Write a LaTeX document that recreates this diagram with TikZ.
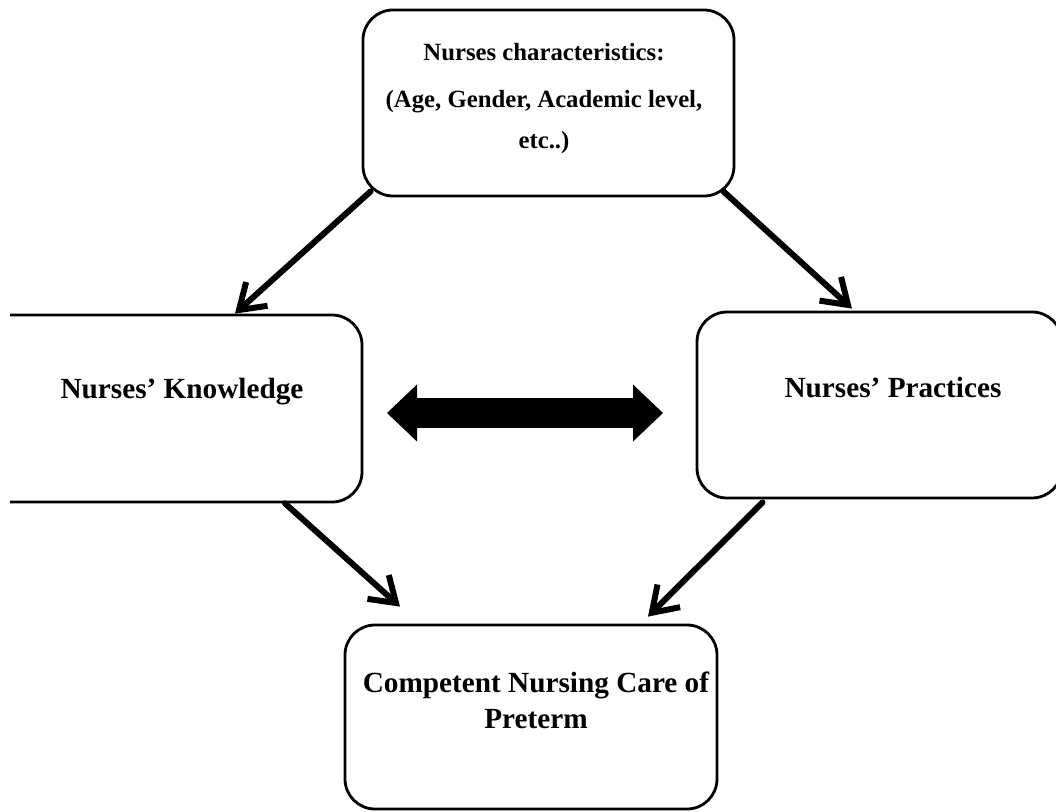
\documentclass[tikz,border=0pt]{standalone}
\usepackage{fontspec}
\setmainfont{Liberation Serif}
\usetikzlibrary{arrows.meta, positioning}
\tikzset{
  box/.style={draw, line width=0.7mm, rounded corners=7.5mm, inner sep=0pt},
  txt/.style={font=\bfseries\fontsize{20.8}{25.6}\selectfont, align=center, inner sep=0pt},
  link/.style={line width=1.5mm, line cap=round, -{Straight Barb[length=6mm, width=8mm]}},
  bigarrow/.style={line width=7.5mm,
    {Triangle[length=7.5mm, width=14.25mm, line width=0pt]}-{Triangle[length=7.5mm, width=14.25mm, line width=0pt]}},
}
\begin{document}
\begin{tikzpicture}[x=0.25mm, y=-0.25mm]
  \useasboundingbox (0,0) rectangle (1056,812);
  \clip (10,0) rectangle (1056,812);
  % boxes
  \node[box, minimum width=92.75mm, minimum height=46.5mm] (char) at (548.5,103) {};
  \node[box, minimum width=98mm, minimum height=46.75mm] (know) at (166,408.5) {};
  \node[box, minimum width=91.25mm, minimum height=46.5mm] (prac) at (879.5,405) {};
  \node[box, minimum width=93mm, minimum height=46mm] (care) at (531,717) {};
  % texts
  \node[txt, font=\bfseries\fontsize{17.6}{29.2}\selectfont, anchor=north] (char-t) at (544,43)
    {Nurses characteristics:\\[4.2pt] (Age, Gender, Academic level,\\ etc..)};
  \node[txt, anchor=base] (know-t) at (182,398) {Nurses’ Knowledge};
  \node[txt, anchor=base] (prac-t) at (893,397) {Nurses’ Practices};
  \node[txt, anchor=north] (care-t) at (536,672) {Competent Nursing Care of\\ Preterm};
  % arrows
  \draw[link] ([shift={(9,-6)}]char.south west) -- ([shift={(69,0)}]know.north);
  \draw[link] ([shift={(-12,-6)}]char.south east) -- ([shift={(-27.5,-2)}]prac.north);
  \draw[link] ([shift={(119,0)}]know.south) -- ([shift={(-131,-17)}]care.north);
  \draw[link] ([shift={(-117,3)}]prac.south) -- ([shift={(117,-7)}]care.north);
  \coordinate (dl) at (387,413);
  \coordinate (dr) at (663,413);
  \draw[bigarrow] (dl) -- (dr);
\end{tikzpicture}
\end{document}
